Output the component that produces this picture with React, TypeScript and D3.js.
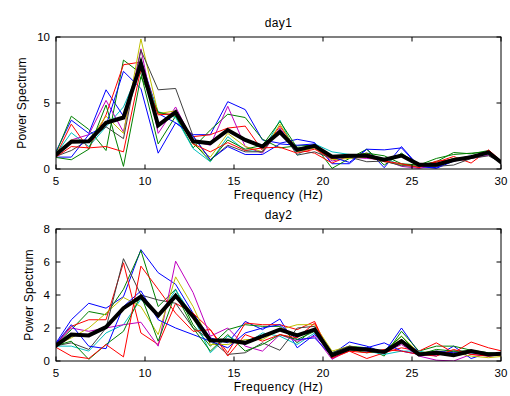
import React from "react";
import * as d3 from "d3";

// Frequency bins (Hz)
const FREQ = [4.88, 5.86, 6.84, 7.81, 8.79, 9.77, 10.74, 11.72, 12.7, 13.67, 14.65, 15.63, 16.6, 17.58, 18.55, 19.53, 20.51, 21.48, 22.46, 23.44, 24.41, 25.39, 26.37, 27.34, 28.32, 29.3, 30.27];

const X_TICKS = [5, 10, 15, 20, 25, 30];

// ---- day1 ----
const DAY1_TITLE = "day1";
const DAY1_Y_TICKS = [0, 5, 10];
const DAY1_BLUE1 = [1.0, 3.7, 2.7, 6.0, 4.0, 8.3, 4.2, 3.5, 2.6, 2.6, 5.1, 4.5, 2.2, 1.95, 2.25, 2.0, 0.4, 0.4, 1.5, 0.1, 1.7, 0.2, 0.05, 0.6, 0.9, 1.3, 0.3];
const DAY1_GREEN1 = [0.8, 4.0, 3.0, 1.4, 8.25, 7.25, 1.9, 4.0, 1.6, 2.95, 4.15, 3.9, 2.25, 1.6, 1.75, 1.8, 0.05, 0.8, 1.5, 0.3, 1.2, 0.3, 0.55, 1.25, 1.15, 1.4, 0.3];
const DAY1_RED1 = [0.7, 3.4, 1.5, 4.1, 7.9, 8.1, 4.2, 4.1, 2.45, 2.6, 3.1, 3.25, 1.4, 3.25, 1.45, 1.2, 0.45, 1.0, 1.2, 0.55, 0.35, 0.3, 0.5, 0.95, 0.45, 1.45, 0.3];
const DAY1_CYAN = [0.9, 2.75, 1.7, 3.2, 4.7, 7.75, 4.35, 3.9, 1.55, 0.55, 2.45, 1.4, 1.3, 3.7, 1.05, 1.9, 1.3, 1.1, 0.9, 0.8, 0.3, 0.2, 0.4, 0.8, 0.9, 1.1, 0.3];
const DAY1_MAGENTA = [0.9, 2.2, 2.6, 5.2, 2.8, 9.1, 2.7, 4.7, 2.1, 1.8, 4.75, 1.7, 1.2, 3.1, 1.3, 1.6, 0.6, 0.9, 0.8, 0.7, 0.2, 0.05, 0.3, 0.6, 0.8, 1.05, 0.3];
const DAY1_YELLOW = [0.9, 2.2, 2.1, 4.0, 2.7, 9.85, 4.2, 4.4, 1.9, 0.9, 2.7, 1.7, 1.3, 3.4, 1.3, 1.6, 0.7, 0.8, 0.9, 0.6, 0.3, 0.2, 0.4, 0.8, 0.9, 1.2, 0.3];
const DAY1_GRAY = [0.9, 1.4, 2.2, 3.2, 2.3, 9.0, 6.0, 6.1, 2.5, 0.7, 1.8, 1.3, 1.3, 3.0, 1.05, 1.3, 0.8, 0.9, 0.55, 0.6, 0.25, 0.2, 0.2, 0.3, 0.8, 1.0, 0.3];
const DAY1_BLUE2 = [0.9, 0.9, 2.6, 3.3, 7.4, 6.1, 1.2, 3.5, 2.5, 0.7, 1.7, 1.1, 1.1, 1.9, 1.8, 1.9, 0.9, 0.5, 1.5, 1.45, 1.6, 0.2, 0.1, 0.7, 1.0, 1.2, 0.3];
const DAY1_GREEN2 = [0.9, 0.7, 1.5, 4.85, 0.2, 7.0, 4.3, 4.0, 2.0, 0.6, 2.2, 1.5, 1.8, 3.6, 1.6, 1.7, 0.9, 1.0, 1.2, 1.0, 0.4, 0.3, 0.8, 1.1, 1.2, 1.3, 0.3];
const DAY1_RED2 = [0.8, 1.7, 1.6, 1.7, 1.3, 7.6, 4.1, 4.2, 1.9, 1.3, 2.0, 1.4, 1.6, 1.65, 1.2, 1.5, 0.8, 1.0, 0.9, 0.6, 0.4, 0.1, 0.6, 0.7, 0.9, 1.2, 0.3];
const DAY1_MEAN = [0.95, 2.07, 2.1, 3.5, 3.9, 8.0, 3.3, 4.3, 2.1, 1.95, 2.95, 2.2, 1.7, 2.8, 1.45, 1.75, 0.93, 1.0, 1.0, 0.7, 1.02, 0.33, 0.33, 0.68, 0.9, 1.26, 0.22];

// ---- day2 ----
const DAY2_TITLE = "day2";
const DAY2_Y_TICKS = [0, 2, 4, 6, 8];
const DAY2_BLUE1 = [0.9, 2.5, 3.5, 3.2, 3.9, 6.75, 5.35, 4.65, 2.9, 1.4, 1.1, 2.4, 1.9, 2.55, 0.8, 1.6, 0.4, 1.15, 0.9, 0.5, 2.0, 0.5, 0.3, 0.9, 0.15, 0.5, 0.4];
const DAY2_GREEN1 = [0.9, 1.9, 3.0, 2.8, 4.35, 6.7, 3.3, 4.35, 2.2, 0.9, 1.9, 2.2, 2.1, 2.1, 1.1, 2.0, 0.5, 0.9, 0.8, 0.3, 1.8, 0.6, 0.9, 0.9, 0.65, 0.5, 0.4];
const DAY2_RED1 = [0.9, 2.1, 2.5, 2.5, 5.95, 1.7, 1.0, 3.5, 2.9, 1.9, 0.5, 2.3, 2.2, 2.2, 1.9, 2.4, 0.15, 0.6, 0.15, 0.5, 0.8, 0.6, 1.1, 0.5, 1.15, 0.8, 0.55];
const DAY2_CYAN = [0.9, 0.9, 0.6, 1.7, 2.2, 3.75, 2.7, 4.3, 2.7, 0.5, 1.5, 1.0, 1.7, 1.5, 1.0, 1.7, 0.5, 0.7, 0.6, 0.4, 0.6, 0.6, 0.4, 0.6, 0.5, 0.4, 0.4];
const DAY2_MAGENTA = [0.9, 2.0, 1.8, 2.0, 2.2, 2.35, 0.9, 6.05, 4.15, 1.5, 2.0, 0.9, 0.6, 1.6, 1.2, 1.5, 0.1, 0.7, 0.6, 0.5, 1.0, 0.3, 0.05, 0.0, 0.4, 0.3, 0.4];
const DAY2_YELLOW = [0.9, 1.4, 2.0, 2.9, 3.85, 3.3, 1.6, 5.1, 3.3, 1.0, 1.0, 1.3, 1.3, 1.9, 2.2, 2.2, 0.6, 0.9, 0.7, 0.5, 1.5, 0.5, 0.6, 0.5, 0.3, 0.2, 0.3];
const DAY2_GRAY = [0.9, 1.1, 0.7, 2.0, 6.2, 4.0, 3.7, 3.5, 2.0, 1.3, 0.4, 0.5, 1.1, 0.65, 2.0, 2.1, 0.5, 0.9, 0.7, 0.6, 1.3, 0.5, 0.4, 0.6, 0.6, 0.4, 0.4];
const DAY2_BLUE2 = [0.9, 2.2, 0.9, 0.75, 3.3, 4.25, 2.5, 2.0, 1.6, 1.2, 0.8, 1.7, 2.0, 2.2, 1.3, 1.4, 0.3, 0.8, 0.8, 1.1, 0.6, 0.4, 0.6, 0.5, 0.5, 0.4, 0.4];
const DAY2_GREEN2 = [0.9, 1.2, 0.1, 1.0, 1.8, 4.0, 1.2, 4.1, 2.0, 0.6, 1.6, 0.6, 1.0, 1.6, 1.3, 1.8, 0.4, 0.7, 0.5, 0.6, 1.5, 0.4, 0.7, 0.6, 0.6, 0.5, 0.4];
const DAY2_RED2 = [0.9, 0.3, 0.15, 1.0, 0.25, 5.75, 4.35, 2.9, 1.8, 1.9, 0.3, 1.6, 1.2, 1.6, 1.4, 2.3, 0.2, 0.6, 0.5, 0.7, 0.6, 0.4, 0.3, 0.7, 0.4, 0.3, 0.4];
const DAY2_MEAN = [0.85, 1.6, 1.55, 2.05, 3.2, 3.9, 2.75, 3.95, 2.7, 1.25, 1.25, 1.1, 1.5, 1.9, 1.55, 1.9, 0.35, 0.75, 0.7, 0.55, 1.2, 0.4, 0.5, 0.35, 0.6, 0.4, 0.45];

const COLORS = ["#0000ff", "#008000", "#ff0000", "#00bfbf", "#bf00bf", "#bfbf00", "#404040", "#0000ff", "#008000", "#ff0000"];

const PANELS = [
  {
    title: DAY1_TITLE,
    yMax: 10,
    yTicks: DAY1_Y_TICKS,
    series: [DAY1_BLUE1, DAY1_GREEN1, DAY1_RED1, DAY1_CYAN, DAY1_MAGENTA, DAY1_YELLOW, DAY1_GRAY, DAY1_BLUE2, DAY1_GREEN2, DAY1_RED2],
    mean: DAY1_MEAN,
    top: 37,
    bottom: 169,
    ylabelX: 26,
  },
  {
    title: DAY2_TITLE,
    yMax: 8,
    yTicks: DAY2_Y_TICKS,
    series: [DAY2_BLUE1, DAY2_GREEN1, DAY2_RED1, DAY2_CYAN, DAY2_MAGENTA, DAY2_YELLOW, DAY2_GRAY, DAY2_BLUE2, DAY2_GREEN2, DAY2_RED2],
    mean: DAY2_MEAN,
    top: 229,
    bottom: 361,
    ylabelX: 33,
  },
];

const LEFT = 56;
const RIGHT = 501;
const FONT = "Arial, 'Liberation Sans', Helvetica, sans-serif";
const TICK_LEN = 4.5;

function Panel({ p, idx }: { p: any; idx: number }) {
  const x = d3.scaleLinear().domain([5, 30]).range([LEFT, RIGHT]);
  const y = d3.scaleLinear().domain([0, p.yMax]).range([p.bottom, p.top]);
  const line = d3
    .line<number>()
    .x((_, i) => x(FREQ[i]))
    .y((v) => y(v));
  const clipId = `clip-${idx}`;
  const cx = (LEFT + RIGHT) / 2;
  return (
    <g>
      <defs>
        <clipPath id={clipId}>
          <rect x={LEFT} y={p.top} width={RIGHT - LEFT} height={p.bottom - p.top} />
        </clipPath>
      </defs>
      <rect x={LEFT} y={p.top} width={RIGHT - LEFT} height={p.bottom - p.top} fill="#ffffff" />
      <g clipPath={`url(#${clipId})`}>
        {p.series.map((s: number[], i: number) => (
          <path key={i} d={line(s) || ""} fill="none" stroke={COLORS[i]} strokeWidth={1} strokeLinejoin="miter" />
        ))}
        <path d={line(p.mean) || ""} fill="none" stroke="#000" strokeWidth={4} strokeLinejoin="miter" />
      </g>
      {/* frame */}
      <rect x={LEFT} y={p.top} width={RIGHT - LEFT} height={p.bottom - p.top} fill="none" stroke="#000" strokeWidth={1} />
      {/* x ticks */}
      {X_TICKS.map((t) => (
        <g key={`x${t}`}>
          <line x1={x(t)} x2={x(t)} y1={p.bottom} y2={p.bottom - TICK_LEN} stroke="#000" />
          <line x1={x(t)} x2={x(t)} y1={p.top} y2={p.top + TICK_LEN} stroke="#000" />
          <text x={x(t)} y={p.bottom + 15.5} textAnchor="middle" fontSize={11.5} fontFamily={FONT} fill="#000">
            {t}
          </text>
        </g>
      ))}
      {/* y ticks */}
      {p.yTicks.map((t: number) => (
        <g key={`y${t}`}>
          <line x1={LEFT} x2={LEFT + TICK_LEN} y1={y(t)} y2={y(t)} stroke="#000" />
          <line x1={RIGHT} x2={RIGHT - TICK_LEN} y1={y(t)} y2={y(t)} stroke="#000" />
          <text x={LEFT - 6} y={y(t)} dy="0.36em" textAnchor="end" fontSize={11.5} fontFamily={FONT} fill="#000">
            {t}
          </text>
        </g>
      ))}
      <text x={cx} y={p.top - 10} textAnchor="middle" fontSize={12} letterSpacing={0.4} fontFamily={FONT} fill="#000">
        {p.title}
      </text>
      <text x={cx} y={p.bottom + 30} textAnchor="middle" fontSize={12} letterSpacing={0.5} fontFamily={FONT} fill="#000">
        Frequency (Hz)
      </text>
      <text
        transform={`translate(${p.ylabelX},${(p.top + p.bottom) / 2}) rotate(-90)`}
        textAnchor="middle"
        fontSize={12}
        letterSpacing={0.2}
        fontFamily={FONT}
        fill="#000"
      >
        Power Spectrum
      </text>
    </g>
  );
}

export default function App() {
  return (
    <svg
      width={510}
      height={396}
      style={{ position: "absolute", left: 0, top: 0, background: "#ffffff" }}
    >
      <rect x={0} y={0} width={510} height={396} fill="#ffffff" />
      {PANELS.map((p, i) => (
        <Panel key={i} p={p} idx={i} />
      ))}
    </svg>
  );
}
